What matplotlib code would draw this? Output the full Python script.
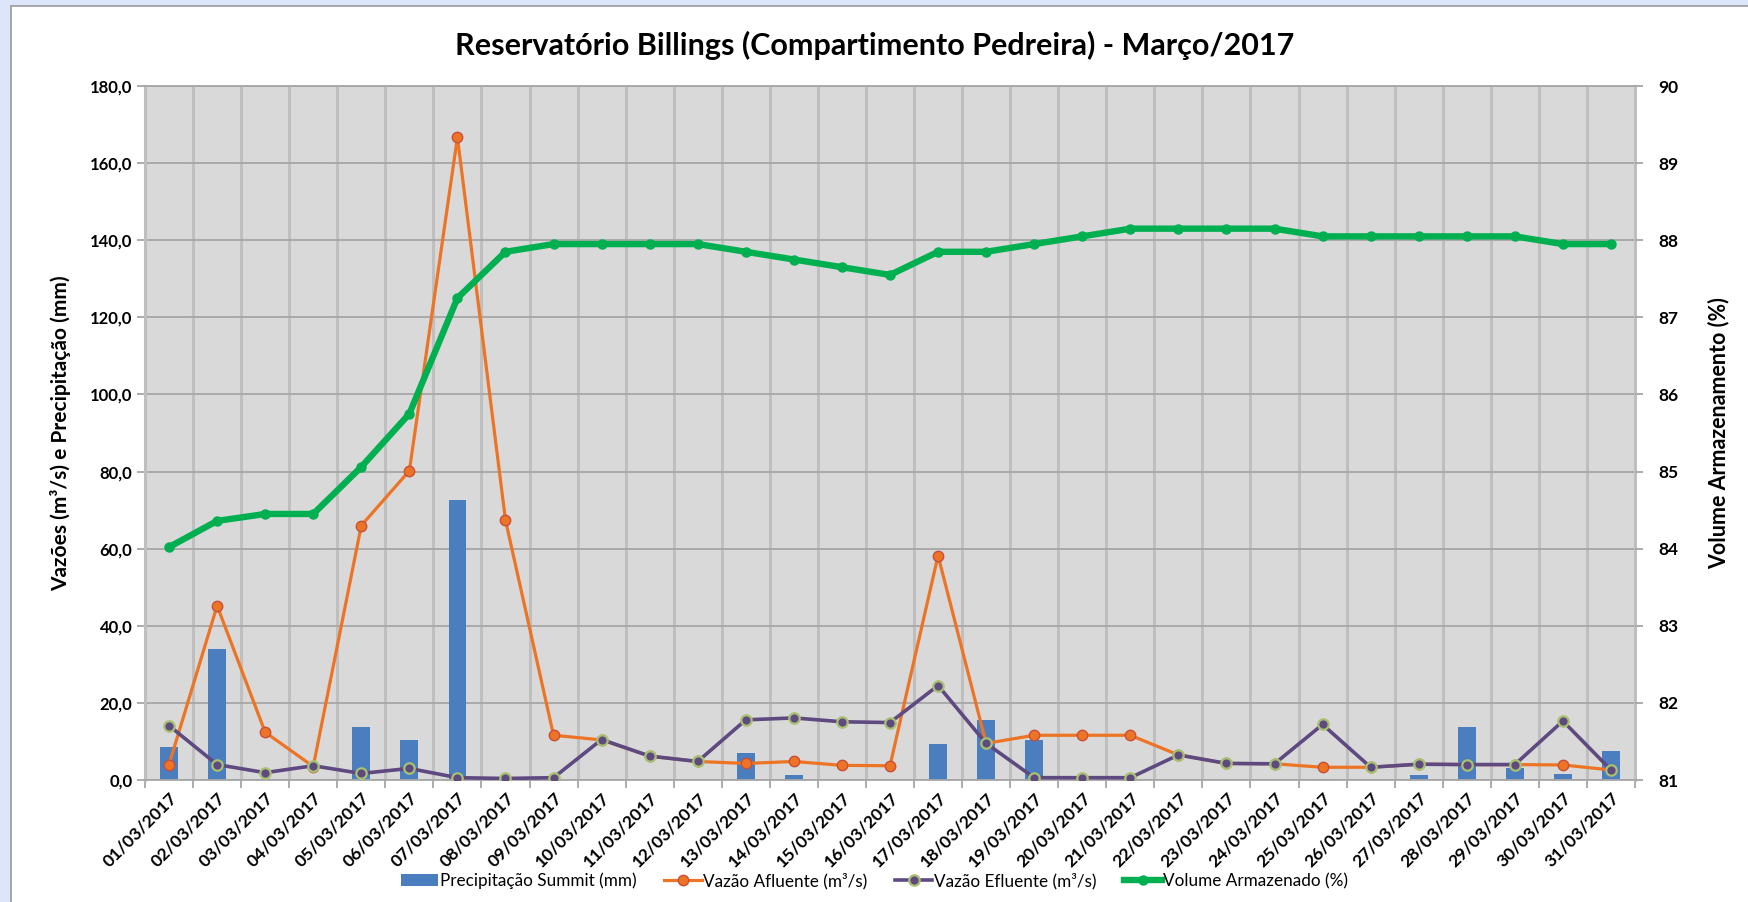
import matplotlib
matplotlib.use('Agg')
import numpy as np
import matplotlib.pyplot as plt
from matplotlib.patches import Rectangle

plt.rcParams['font.family'] = ['Lato', 'DejaVu Sans']

# dias de março/2017
dias = ['%02d/03/2017' % d for d in range(1, 32)]

# precipitação Summit (mm)
precipitacao = [8.6, 34.0, 0.3, 0.0, 13.8, 10.4, 72.6, 0.0, 0.0, 0.0,
                0.0, 0.0, 7.1, 1.2, 0.0, 0.0, 9.3, 15.6, 10.5, 0.0,
                0.2, 0.0, 0.0, 0.0, 0.2, 0.0, 1.4, 13.7, 3.2, 1.6, 7.6]

# vazão afluente (m3/s)
vazao_afluente = [4.0, 45.2, 12.4, 3.5, 66.0, 80.2, 166.7, 67.4, 11.6, 10.4,
                  6.2, 4.8, 4.3, 4.8, 3.8, 3.7, 58.2, 9.5, 11.6, 11.6,
                  11.6, 6.5, 4.3, 4.2, 3.3, 3.3, 4.1, 4.0, 4.0, 3.9, 2.6]

# vazão efluente (m3/s)
vazao_efluente = [14.1, 4.0, 1.9, 3.7, 1.7, 3.0, 0.6, 0.4, 0.6, 10.5,
                  6.2, 4.8, 15.6, 16.1, 15.1, 14.9, 24.5, 9.5, 0.6, 0.6,
                  0.6, 6.5, 4.3, 4.2, 14.4, 3.3, 4.1, 4.0, 4.0, 15.3, 2.6]

# volume armazenado (%)
volume = [84.02, 84.36, 84.45, 84.45, 85.06, 85.75, 87.25, 87.85, 87.95, 87.95,
          87.95, 87.95, 87.85, 87.75, 87.65, 87.55, 87.85, 87.85, 87.95, 88.05,
          88.15, 88.15, 88.15, 88.15, 88.05, 88.05, 88.05, 88.05, 88.05, 87.95, 87.95]

W, H = 1749, 902
fig = plt.figure(figsize=(W / 100, H / 100), dpi=100, facecolor='#DCE5F9')
# painel branco do gráfico
fig.patches.append(Rectangle((11 / W, -0.01), 1.0, 1.01 - 6 / H, transform=fig.transFigure,
                             facecolor='white', edgecolor='#9A9A9A', linewidth=1.2, zorder=-5))

ax = fig.add_axes([145 / W, 1 - 780 / H, (1635 - 145) / W, (780 - 86) / H])
ax.set_facecolor('#D9D9D9')
x = np.arange(len(dias))

barras = ax.bar(x, precipitacao, width=0.37, color='#4A7EBF', zorder=2, label='Precipitação Summit (mm)')
l_af, = ax.plot(x, vazao_afluente, color='#EC7424', lw=2.3, marker='o', ms=7.5,
                markerfacecolor='#EC7424', markeredgecolor='#C8503A', markeredgewidth=1.0,
                zorder=3, label='Vazão Afluente (m³/s)')
l_ef, = ax.plot(x, vazao_efluente, color='#5E4A80', lw=2.6, marker='o', ms=7.5,
                markerfacecolor='#5E4A80', markeredgecolor='#A8C070', markeredgewidth=1.6,
                zorder=4, label='Vazão Efluente (m³/s)')

ax.set_xlim(-0.5, len(dias) - 0.5)
ax.set_ylim(0, 180)
ax.set_yticks(np.arange(0, 181, 20))
ax.set_yticklabels([('%.1f' % v).replace('.', ',') for v in np.arange(0, 181, 20)],
                   fontsize=12, fontweight='bold')
ax.yaxis.grid(True, color='#A6A6A6', lw=1.3, zorder=1)

# linhas verticais nas divisões dos dias
ax.set_xticks(np.arange(-0.5, len(dias), 1))
ax.set_xticklabels([])
ax.set_xticks(x, minor=True)
ax.set_xticklabels(dias, minor=True, rotation=45, ha='right', va='top',
                   rotation_mode='anchor', fontsize=12.6, fontweight='bold')
ax.tick_params(axis='x', which='minor', length=0, pad=7)
ax.tick_params(axis='x', which='major', length=6, color='#A6A6A6', width=1.3)
ax.tick_params(axis='y', length=6, color='#A6A6A6', width=1.3, pad=3)
ax.xaxis.grid(True, which='major', color='#BFBFBF', lw=2.2, zorder=1)
ax.set_axisbelow(True)
for sp in ax.spines.values():
    sp.set_color('#A6A6A6')
    sp.set_linewidth(1.3)
ax.spines['left'].set_color('#BFBFBF')
ax.spines['left'].set_linewidth(2.2)
ax.spines['right'].set_color('#BFBFBF')
ax.spines['right'].set_linewidth(2.2)

ax.set_ylabel('Vazões (m³/s) e Precipitação (mm)', fontsize=15, fontweight='bold', labelpad=14)

ax2 = ax.twinx()
l_vol, = ax2.plot(x, volume, color='#00B050', lw=4.6, marker='o', ms=6.5,
                  markerfacecolor='#00B050', markeredgecolor='#00B050',
                  zorder=5, label='Volume Armazenado (%)')
ax2.set_ylim(81, 90)
ax2.set_yticks(np.arange(81, 91, 1))
ax2.set_yticklabels([str(v) for v in range(81, 91)], fontsize=12.5, fontweight='bold')
ax2.tick_params(axis='y', length=6, color='#A6A6A6', width=1.3, pad=11)
for sp in ax2.spines.values():
    sp.set_visible(False)
ax2.set_ylabel('Volume Armazenamento (%)', fontsize=15.5, fontweight='bold', labelpad=21)

fig.text(0.5, 1 - 45 / H, 'Reservatório Billings (Compartimento Pedreira) - Março/2017',
         ha='center', va='center', fontsize=22, fontweight='bold')

fig.legend([barras, l_af, l_ef, l_vol],
           [barras.get_label(), l_af.get_label(), l_ef.get_label(), l_vol.get_label()],
           loc='center', bbox_to_anchor=(0.5, 1 - 881 / H), ncol=4,
           frameon=False, fontsize=12.3, handlelength=2.2, handletextpad=0.1,
           columnspacing=1.6)

fig.savefig('out.png', dpi=100, facecolor=fig.get_facecolor())
